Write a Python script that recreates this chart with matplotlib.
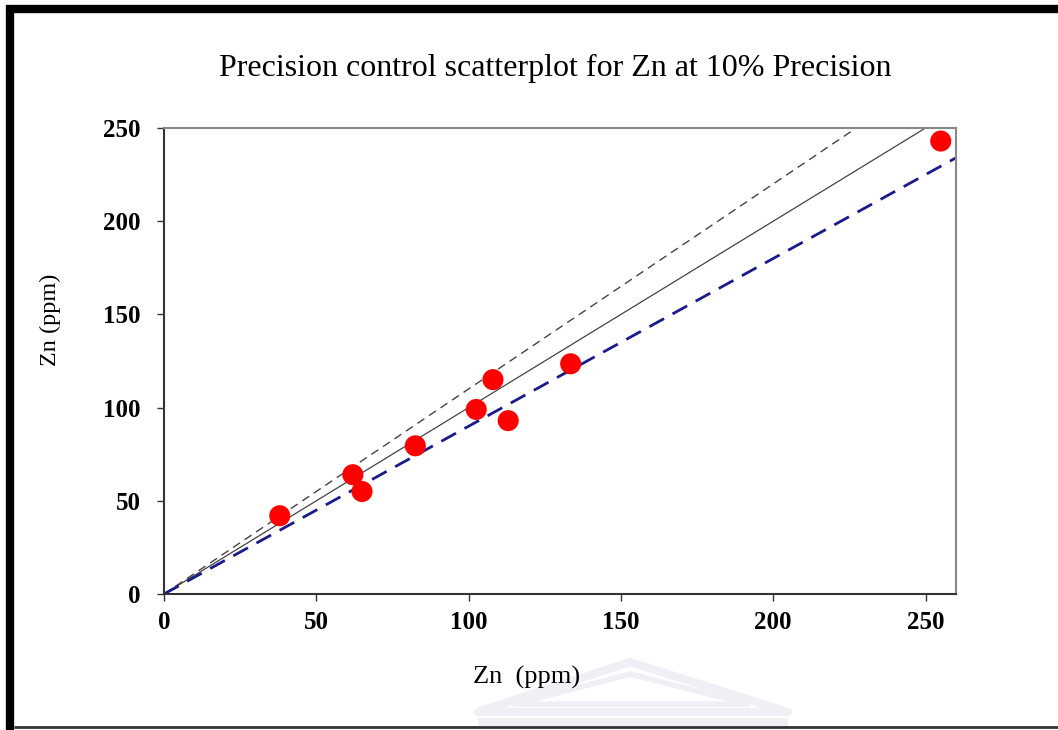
import matplotlib
matplotlib.use("Agg")
import matplotlib.pyplot as plt
from matplotlib.lines import Line2D
from matplotlib.patches import Polygon, Rectangle
import numpy as np

x_vals = [38, 62, 65, 82.5, 102.5, 108, 113, 133.5, 255]
y_vals = [42, 64, 55, 79.5, 99, 115, 93, 123.5, 243]
line_x = [0, 260]
ratio_mid = 1.0
ratio_hi = 1.1
ratio_lo = 0.9
ticks = [0, 50, 100, 150, 200, 250]

plt.rcParams['font.family'] = ['Liberation Serif', 'DejaVu Serif']

fig = plt.figure(figsize=(10.58, 7.30), dpi=100)

# faint watermark (pediment) behind the page
wm = '#eef0f5'
fig.add_artist(Polygon([[478/1058, 1-712/730], [630/1058, 1-662/730], [788/1058, 1-712/730]],
                       closed=True, fill=False, edgecolor=wm, lw=6, joinstyle='round',
                       transform=fig.transFigure, zorder=0))
fig.add_artist(Polygon([[515/1058, 1-704/730], [630/1058, 1-674/730], [748/1058, 1-704/730]],
                       closed=True, fill=False, edgecolor=wm, lw=4, joinstyle='round',
                       transform=fig.transFigure, zorder=0))
fig.add_artist(Rectangle((478/1058, 1-726/730), 310/1058, 8/730, facecolor=wm, edgecolor='none',
                         transform=fig.transFigure, zorder=0))

ax = fig.add_axes([164/1058, 136/730, (956-164)/1058, (594-128)/730])
ax.patch.set_alpha(0)

lx = np.array(line_x, dtype=float)
ax.plot(lx, lx*ratio_hi, color='#444444', lw=1.0, dashes=(6, 4), zorder=2)
ax.plot(lx, lx*ratio_mid, color='#444444', lw=0.9, zorder=2)
ax.plot(lx, lx*ratio_lo, color='#1a1a8c', lw=2.0, dashes=(6, 3.5), zorder=2)
ax.scatter(x_vals, y_vals, s=230, color='#ff0000', edgecolors='none', zorder=3)

ax.set_xlim(0, 260)
ax.set_ylim(0, 250)
ax.set_xticks(ticks)
ax.set_yticks(ticks)
ax.tick_params(direction='out', length=5, width=1, colors='#333333', labelcolor='black',
               labelsize=18)
ax.tick_params(axis='x', pad=7)
ax.tick_params(axis='y', pad=12)
for lab in ax.get_xticklabels() + ax.get_yticklabels():
    lab.set_fontweight('bold')
ax.spines['left'].set_color('#333333')
ax.spines['bottom'].set_color('#333333')
ax.spines['top'].set_color('#888888')
ax.spines['right'].set_color('#888888')
for s in ax.spines.values():
    s.set_linewidth(1.5)

fig.text(555/1058, 1-68/730, 'Precision control scatterplot for Zn at 10% Precision',
         ha='center', va='center', fontsize=23)
fig.text(527/1058, 1-677/730, 'Zn  (ppm)', ha='center', va='center', fontsize=19)
fig.text(50/1058, 1-320/730, 'Zn (ppm)', ha='center', va='center', rotation=90, fontsize=17.5)

# page frame
fig.add_artist(Line2D([10/1058, 10/1058], [0, 1-5/730], transform=fig.transFigure,
                      color='black', lw=6, solid_capstyle='butt'))
fig.add_artist(Line2D([6/1058, 1], [1-9/730, 1-9/730], transform=fig.transFigure,
                      color='black', lw=6, solid_capstyle='butt'))
fig.add_artist(Line2D([14/1058, 1], [3/730, 3/730], transform=fig.transFigure,
                      color='#333333', lw=2, solid_capstyle='butt'))

fig.savefig('out.png', dpi=100)
